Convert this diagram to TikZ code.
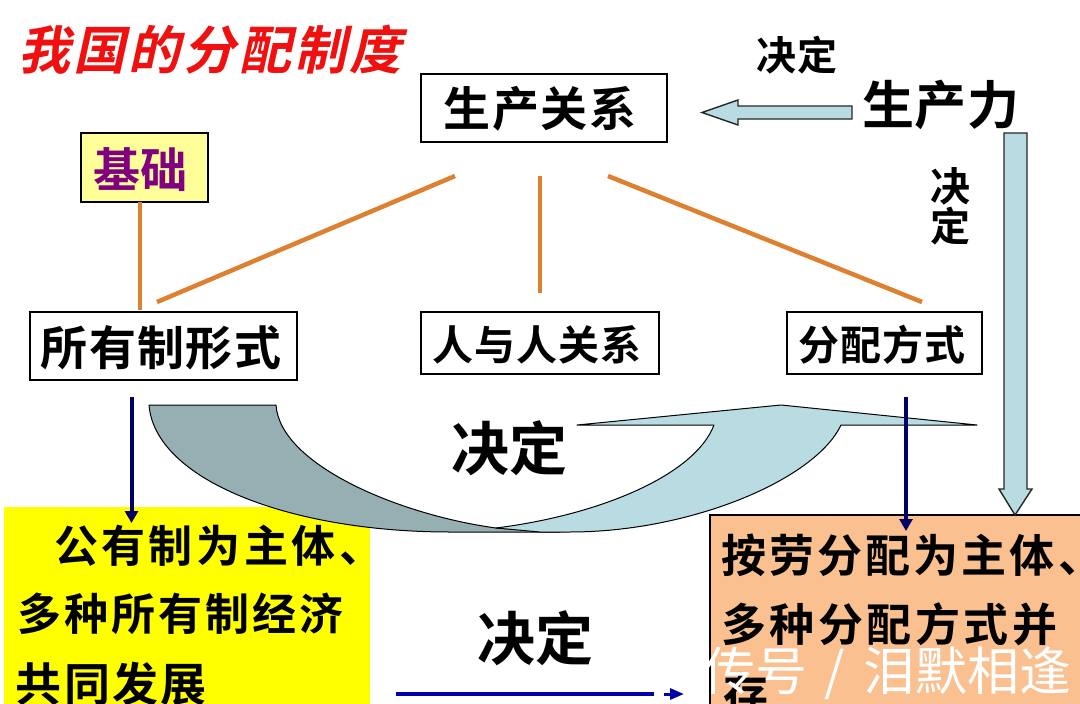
\documentclass[tikz,border=0pt]{standalone}
\usepackage{fontspec}
\usetikzlibrary{arrows.meta}
\newfontfamily\cjkb{Noto Sans CJK SC}[BoldFont=* Bold]
\newfontfamily\cjkslant{Noto Sans CJK SC Bold}[FakeSlant=0.22]
\newfontfamily\cjkwm{Noto Sans CJK SC}
\newcommand{\tsize}[2]{\fontsize{#1}{#1}\cjkb\bfseries\addfontfeature{LetterSpace=#2}}
\definecolor{paleblue}{HTML}{B9DCE2}
\definecolor{greyblue}{HTML}{95AFB3}
\definecolor{linkorange}{HTML}{DD8030}
\definecolor{navyline}{HTML}{000066}
\definecolor{royalline}{HTML}{0000AA}
\definecolor{boxorange}{HTML}{FAC08F}
\definecolor{paleyellow}{HTML}{FFFF99}
\definecolor{labelpurple}{HTML}{800080}
\definecolor{panelyellow}{HTML}{FFFF00}
\definecolor{titlered}{HTML}{F01010}
\tikzset{
  lab/.style={inner sep=0pt,outer sep=0pt,anchor=center},
  lineleft/.style={inner sep=0pt,outer sep=0pt,anchor=west},
  framebox/.style={draw=black,line width=1.2pt,fill=white,inner sep=0pt,outer sep=0pt,anchor=north west},
  orangelink/.style={linkorange,line width=4.5pt},
  navyarrow/.style={navyline,line width=4pt,-{Triangle[width=13pt,length=12pt]},shorten >=0pt},
  blockarrow/.style={draw=black!85,line width=1.4pt,fill=paleblue,line join=miter},
  curveedge/.style={draw=black,line width=1pt,line join=round},
}
\begin{document}
\begin{tikzpicture}[x=1pt,y=-1pt]
\useasboundingbox (0,0) rectangle (1080,704);
\clip (0,0) rectangle (1080,704);
\fill[white] (0,0) rectangle (1080,704);

% filled panels
\node[lineleft,fill=panelyellow,minimum width=366pt,minimum height=200pt,anchor=north west] (gongyou) at (4,507) {};
\node[framebox,fill=boxorange,minimum width=372pt,minimum height=195pt] (anlao) at (710,515) {};

% curved double-tone arrow
\path[curveedge,fill=greyblue] (149,405) -- (276,405)
  .. controls (280,465) and (400,515) .. (496,528)
  -- (560,532) -- (450,532)
  .. controls (290,532) and (155,480) .. (149,405) -- cycle;
\path[curveedge,fill=paleblue] (496,528)
  .. controls (600,515) and (695,475) .. (714,425)
  -- (577,425) -- (781,405) -- (977,425) -- (841,425)
  .. controls (815,480) and (690,532) .. (570,532)
  -- (540,532) -- cycle;

% boxes
\node[framebox,minimum width=246pt,minimum height=68pt] (shengchan) at (421,74) {};
\node[lab] at (540,109) {\tsize{47}{3}生产关系};
\node[framebox,fill=paleyellow,minimum width=127pt,minimum height=69pt] (jichu) at (81,133) {};
\node[lab,text=labelpurple] at (140.5,170) {\tsize{47}{1}基础};
\node[framebox,minimum width=267pt,minimum height=68pt] (suoyou) at (30,312) {};
\node[lab] at (161,348) {\tsize{47}{3}所有制形式};
\node[framebox,minimum width=238pt,minimum height=62pt] (renyu) at (421,312) {};
\node[lab] at (537,345) {\tsize{41}{2}人与人关系};
\node[framebox,minimum width=195pt,minimum height=62pt] (fenpei) at (787,312) {};
\node[lab] at (882,345) {\tsize{41}{2}分配方式};

% free labels
\node[lab,text=titlered] (title) at (210,50) {\fontsize{52}{52}\cjkslant\addfontfeature{LetterSpace=6}我国的分配制度};
\node[lab] (shengli) at (941,105) {\tsize{52}{1}生产力};
\node[lab] (jd1) at (797,55) {\tsize{40}{1}决定};
\node[lab] (jd2a) at (950,186) {\tsize{40}{0}决};
\node[lab] (jd2b) at (950,226) {\tsize{40}{0}定};
\node[lab] (jd3) at (509,448) {\tsize{58}{0}决定};
\node[lab] (jd4) at (535,638) {\tsize{58}{0}决定};

% panel text
\node[lineleft] (g1) at (54,546) {\tsize{44}{8}公有制为主体、};
\node[lineleft] (g2) at (17,614) {\tsize{44}{7}多种所有制经济};
\node[lineleft] (g3) at (16,684) {\tsize{46}{5}共同发展};
\node[lineleft] (a1) at (721,555) {\tsize{45}{7}按劳分配为主体、};
\node[lineleft] (a2) at (721,624) {\tsize{45}{8}多种分配方式并};
\node[lineleft] (a3) at (723,693) {\tsize{45}{7}存};

% watermark
\node[lineleft,text=white] (wm) at (703,673) {\fontsize{52}{52}\cjkwm 传号\hspace{18pt}/\hspace{18pt}泪默相逢};

% orange links
\coordinate (l1) at (157,302); \coordinate (l2) at (455,176);
\coordinate (m1) at (540,176); \coordinate (m2) at (540,293);
\coordinate (r1) at (608,176); \coordinate (r2) at (922,302);
\coordinate (b1) at (140,310);
\draw[orangelink] (jichu.south -| b1) -- (b1);
\draw[orangelink] (l1) -- (l2);
\draw[orangelink] (m1) -- (m2);
\draw[orangelink] (r1) -- (r2);

% navy arrows
\coordinate (na1) at (131.5,397); \coordinate (na2) at (131.5,523);
\coordinate (nb1) at (906,397); \coordinate (nb2) at (906,531);
\draw[navyarrow] (na1) -- (na2);
\draw[navyarrow] (nb1) -- (nb2);

% royal blue arrow
\coordinate (ra) at (396,694); \coordinate (rb) at (654,694);
\coordinate (rc) at (664,694); \coordinate (rd) at (684,694);
\draw[royalline,line width=4pt] (ra) -- (rb);
\draw[royalline,line width=3pt,-{Triangle[width=11pt,length=14pt]}] (rc) -- (rd);

% block arrows
\path[blockarrow] (852,106) -- (738,106) -- (738,100) -- (702,112.5) -- (738,125) -- (738,119) -- (852,119) -- cycle;
\path[blockarrow] (1004,133) -- (1027,133) -- (1027,489) -- (1032,489) -- (1015,515) -- (999,489) -- (1004,489) -- cycle;
\end{tikzpicture}
\end{document}
